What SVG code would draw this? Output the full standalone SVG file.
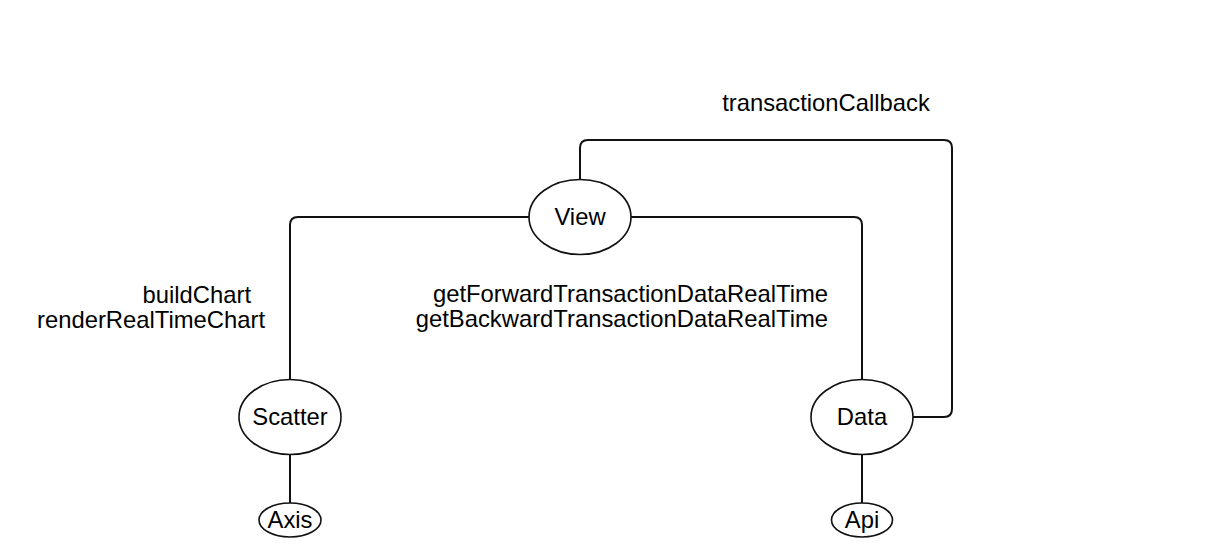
<svg xmlns="http://www.w3.org/2000/svg" width="1222" height="560" viewBox="0 0 1222 560">
<style>
.n{fill:#fff;stroke:#111;stroke-width:1.6}
.t{font-family:"Liberation Sans",Arial,sans-serif;font-size:23.8px;fill:#000}
.c{fill:none;stroke:#111;stroke-width:2}
.m{text-anchor:middle}
.e{text-anchor:end}
</style>
<rect width="1222" height="560" fill="#fff"/>
<g id="connectors">
<path class="c" d="M529,217 H298 Q290,217 290,225 V380"/>
<path class="c" d="M631,217 H854 Q862,217 862,225 V380"/>
<path class="c" d="M580,179.5 V148 Q580,140 588,140 H944 Q952,140 952,148 V409 Q952,417 944,417 H913"/>
<path class="c" d="M290,454.5 V503"/>
<path class="c" d="M862,454.5 V503"/>
</g>
<g id="labels">
<text class="t m" x="826" y="111">transactionCallback</text>
<text class="t e" x="251" y="303">buildChart</text>
<text class="t e" x="265" y="328">renderRealTimeChart</text>
<text class="t e" x="828" y="302">getForwardTransactionDataRealTime</text>
<text class="t e" x="828" y="327">getBackwardTransactionDataRealTime</text>
</g>
<g id="node-view"><ellipse class="n" cx="580" cy="217" rx="51" ry="37.5"/><text class="t m" x="580" y="225">View</text></g>
<g id="node-scatter"><ellipse class="n" cx="290" cy="417" rx="51" ry="37.5"/><text class="t m" x="290" y="425">Scatter</text></g>
<g id="node-data"><ellipse class="n" cx="862" cy="417" rx="51" ry="37.5"/><text class="t m" x="862" y="425">Data</text></g>
<g id="node-axis"><ellipse class="n" cx="290" cy="520" rx="31" ry="17"/><text class="t m" x="290" y="528">Axis</text></g>
<g id="node-api"><ellipse class="n" cx="862" cy="520" rx="30.5" ry="17"/><text class="t m" x="862" y="528">Api</text></g>
</svg>
